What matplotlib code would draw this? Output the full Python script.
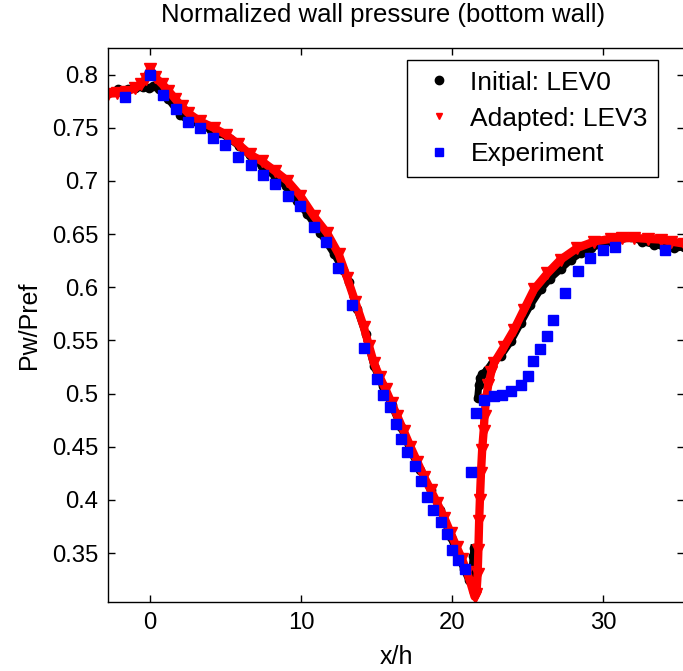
# -*- coding: utf-8 -*-
"""
Normalized wall pressure along the bottom wall: two CFD grids vs experiment
"""
import matplotlib
matplotlib.use("Agg")
import matplotlib.pyplot as plt
from matplotlib.lines import Line2D

''' DATA READ FROM THE FIGURE '''

# Initial grid (LEV0)
x_lev0 = [-2.8, -2.1, -1.5, -1.0, -0.5, -0.1, 0.2, 0.6, 1.2, 1.99, 2.5, 3.3,
          4.0, 4.64, 5.3, 5.86, 6.6, 7.4, 8.29, 9.0, 9.73, 10.4, 11.28, 12.2,
          12.8, 13.16, 13.7, 14.27, 14.82, 15.4, 16.0, 16.6, 17.25, 17.9,
          18.58, 19.2, 19.91, 20.4, 20.79, 21.1, 21.3, 21.4, 21.45, 21.7,
          21.78, 21.85, 22.0, 22.3, 22.7, 23.22, 23.9, 24.55, 25.2, 25.88,
          26.5, 27.2, 27.9, 28.53, 29.2, 29.86, 30.8, 31.85, 32.6, 33.38,
          34.0, 34.7, 35.4]
p_lev0 = [0.783, 0.786, 0.786, 0.787, 0.788, 0.787, 0.789, 0.786, 0.777,
          0.762, 0.757, 0.753, 0.748, 0.745, 0.739, 0.733, 0.724, 0.714,
          0.704, 0.695, 0.681, 0.669, 0.651, 0.631, 0.616, 0.605, 0.580,
          0.556, 0.526, 0.507, 0.489, 0.469, 0.446, 0.428, 0.409, 0.391,
          0.365, 0.348, 0.335, 0.325, 0.330, 0.347, 0.355, 0.496, 0.508,
          0.515, 0.518, 0.522, 0.530, 0.535, 0.549, 0.566, 0.583, 0.598,
          0.608, 0.617, 0.626, 0.632, 0.637, 0.640, 0.643, 0.647, 0.643,
          0.640, 0.6385, 0.6365, 0.638]

# Adapted grid (LEV3)
x_lev3 = [-2.8, -2.2, -1.6, -1.0, -0.6, -0.3, 0.0, 0.3, 0.8, 1.2, 1.66, 2.1,
          2.5, 3.3, 4.2, 5.0, 5.8, 6.6, 7.4, 8.3, 9.1, 9.95, 10.84, 11.72,
          12.5, 13.05, 13.6, 14.15, 14.5, 14.82, 15.2, 15.6, 16.0, 16.37,
          16.8, 17.25, 17.7, 18.14, 18.6, 19.02, 19.5, 19.91, 20.3, 20.68,
          21.0, 21.23, 21.5, 21.62, 21.7, 21.75, 21.8, 21.85, 21.92, 22.0,
          22.1, 22.16, 22.25, 22.4, 22.6, 22.8, 23.45, 24.11, 24.77, 25.44,
          26.32, 27.2, 28.31, 29.42, 30.52, 31.3, 32.07, 33.0, 33.84, 34.5,
          35.4]
p_lev3 = [0.782, 0.7825, 0.784, 0.787, 0.791, 0.796, 0.805, 0.798, 0.791,
          0.785, 0.777, 0.770, 0.764, 0.756, 0.750, 0.7436, 0.735, 0.725,
          0.7185, 0.709, 0.700, 0.686, 0.667, 0.651, 0.631, 0.609, 0.586,
          0.563, 0.545, 0.529, 0.516, 0.504, 0.491, 0.479, 0.465, 0.450,
          0.436, 0.422, 0.409, 0.397, 0.383, 0.369, 0.356, 0.344, 0.332,
          0.322, 0.309, 0.312, 0.330, 0.353, 0.380, 0.400, 0.425, 0.447,
          0.465, 0.479, 0.494, 0.508, 0.520, 0.529, 0.544, 0.560, 0.579,
          0.598, 0.613, 0.626, 0.637, 0.643, 0.6455, 0.646, 0.6464, 0.6455,
          0.6448, 0.643, 0.641]

# Experiment
x_exp = [-1.66, 0.0, 0.84, 1.68, 2.50, 3.32, 4.18, 4.98, 5.79, 6.66, 7.48,
         8.29, 9.14, 9.95, 10.84, 11.68, 12.46, 13.36, 14.15, 15.04, 15.42,
         15.86, 16.26, 16.64, 17.03, 17.54, 17.92, 18.36, 18.76, 19.24,
         19.64, 20.02, 20.42, 20.84, 21.23, 21.61, 22.12, 22.78, 23.34,
         23.89, 24.55, 25.04, 25.40, 25.81, 26.28, 26.72, 27.49, 28.35,
         29.15, 29.99, 30.81, 34.13]
p_exp = [0.779, 0.800, 0.7805, 0.7677, 0.7555, 0.7495, 0.7407, 0.7335,
         0.7229, 0.7153, 0.7056, 0.6975, 0.6859, 0.6761, 0.6564, 0.6422,
         0.6184, 0.5830, 0.5429, 0.514, 0.4983, 0.4870, 0.4714, 0.4576,
         0.4447, 0.4322, 0.4181, 0.4027, 0.3908, 0.3788, 0.3675, 0.3532,
         0.3437, 0.3350, 0.4262, 0.4817, 0.4943, 0.4974, 0.499, 0.5027,
         0.5084, 0.5168, 0.5309, 0.5422, 0.5545, 0.5689, 0.5946, 0.615,
         0.6276, 0.6354, 0.638, 0.6354]

y_ticks = [0.35, 0.4, 0.45, 0.5, 0.55, 0.6, 0.65, 0.7, 0.75, 0.8]
x_ticks = [0, 10, 20, 30]

''' PLOT '''
plt.rcParams['font.family'] = ['Liberation Sans', 'DejaVu Sans']

fig = plt.figure(figsize=(6.83, 6.71), dpi=100)
ax = fig.add_axes([0.158, 0.1028, 0.844, 0.8257])

# LEV0 jumps at the step, so its band is drawn in two pieces
jump = x_lev0.index(21.7)
ax.plot(x_lev0[:jump], p_lev0[:jump], color='black', linewidth=5, zorder=1)
ax.plot(x_lev0[jump:], p_lev0[jump:], color='black', linewidth=5, zorder=1)
ax.plot(x_lev0, p_lev0, 'o', color='black', markersize=6, zorder=1)

ax.plot(x_lev3, p_lev3, color='red', linewidth=6, zorder=2)
ax.plot(x_lev3, p_lev3, 'v', color='red', markersize=8, zorder=2)

ax.plot(x_exp, p_exp, 's', color='#0000ff', markersize=7.5,
        markeredgecolor='#0000ff', zorder=3)

ax.set_xlim(-2.8, 35.4)
ax.set_ylim(0.304, 0.825)
ax.set_xticks(x_ticks)
ax.set_yticks(y_ticks)
ax.set_yticklabels([f"{v:g}" for v in y_ticks])

ax.tick_params(direction='in', length=5, width=1, labelsize=17.2,
               top=True, right=True, pad=7)
for s in ax.spines.values():
    s.set_linewidth(1)

ax.set_title('Normalized wall pressure (bottom wall)', fontsize=18.5,
             pad=19, x=0.477)
ax.set_xlabel('x/h', fontsize=18, labelpad=8)
ax.set_ylabel('Pw/Pref', fontsize=18, labelpad=8)

# legend shows small markers only
handles = [Line2D([], [], linestyle='none', marker='o', color='black',
                  markersize=6),
           Line2D([], [], linestyle='none', marker='v', color='red',
                  markersize=5),
           Line2D([], [], linestyle='none', marker='s', color='#0000ff',
                  markersize=5.5)]
labels = ['Initial: LEV0', 'Adapted: LEV3', 'Experiment']
leg = ax.legend(handles, labels, loc='upper right',
                bbox_to_anchor=(0.955, 0.978), borderaxespad=0,
                fontsize=19, fancybox=False, framealpha=1,
                edgecolor='black', handlelength=1.6, handletextpad=0.4,
                labelspacing=0.45, borderpad=0.4)
leg.get_frame().set_linewidth(1)

plt.savefig('out.png', dpi=100)
